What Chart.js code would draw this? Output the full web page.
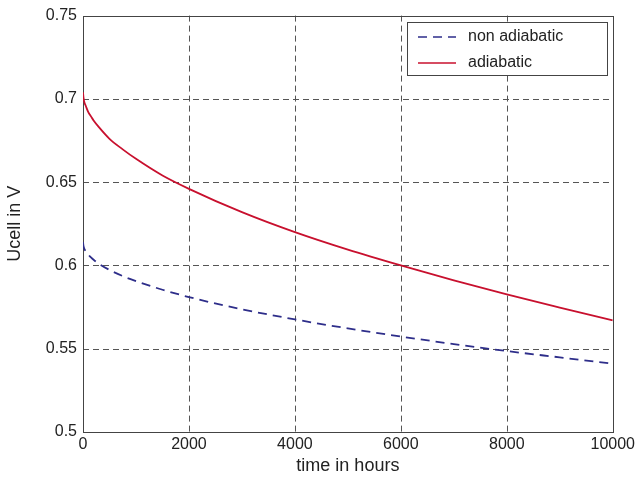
<!DOCTYPE html>
<html lang="en">
<head>
  <meta charset="UTF-8">
  <title>Ucell over time</title>
  <script src="https://cdn.jsdelivr.net/npm/chart.js"></script>
  <style>
    html, body { margin: 0; padding: 0; background: #fff; }
    #wrap { width: 638px; height: 481px; }
  </style>
</head>
<body>
  <div id="wrap"><canvas id="grafico"></canvas></div>

  <script>
    // values
    const horas = [0, 10, 25, 50, 100, 150, 200, 300, 500, 750, 1000, 1500, 2000, 3000, 4000, 5000, 6000, 7000, 8000, 9000, 10000];
    const adiabatico = [0.704, 0.7006, 0.698, 0.696, 0.692, 0.6895, 0.687, 0.683, 0.676, 0.6697, 0.664, 0.654, 0.646, 0.632, 0.620, 0.6095, 0.600, 0.591, 0.5826, 0.5747, 0.567];
    const naoAdiabatico = [0.614, 0.6115, 0.610, 0.6087, 0.6065, 0.6048, 0.6034, 0.601, 0.5973, 0.5936, 0.5906, 0.5854, 0.581, 0.5737, 0.5676, 0.5622, 0.5573, 0.5528, 0.5486, 0.5448, 0.541];
    const ticksX = [0, 2000, 4000, 6000, 8000, 10000];
    const ticksY = [0.5, 0.55, 0.6, 0.65, 0.7, 0.75];

    const fonte = '"Liberation Sans", Arial, sans-serif';

    // legenda desenhada dentro da area do grafico, com caixa
    const legendaBox = {
      id: 'legendaBox',
      afterDraw(chart) {
        const ctx = chart.ctx;
        const a = chart.chartArea;
        const x0 = Math.round(a.right) - 206, y0 = Math.round(a.top) + 6, w = 200, h = 53;
        ctx.save();
        ctx.fillStyle = '#fff';
        ctx.fillRect(x0, y0, w, h);
        ctx.strokeStyle = '#444';
        ctx.lineWidth = 1;
        ctx.strokeRect(x0 + 0.5, y0 + 0.5, w, h);
        ctx.font = '16px ' + fonte;
        ctx.textBaseline = 'middle';
        chart.data.datasets.forEach((ds, i) => {
          const y = y0 + 15 + i * 26;
          ctx.beginPath();
          ctx.strokeStyle = ds.borderColor;
          ctx.lineWidth = 1.5;
          ctx.setLineDash(ds.borderDash || []);
          ctx.moveTo(x0 + 11, y);
          ctx.lineTo(x0 + 49, y);
          ctx.stroke();
          ctx.setLineDash([]);
          ctx.fillStyle = '#222';
          ctx.fillText(ds.label, x0 + 61, y);
        });
        ctx.restore();
      }
    };

    // grade tracejada + moldura
    const gradeTracejada = {
      id: 'gradeTracejada',
      beforeDatasetsDraw(chart) {
        const ctx = chart.ctx;
        const a = chart.chartArea;
        const sx = chart.scales.x, sy = chart.scales.y;
        ctx.save();
        ctx.strokeStyle = '#555';
        ctx.lineWidth = 1;
        ctx.setLineDash([6, 4]);
        ticksX.slice(1, -1).forEach(v => {
          const x = Math.round(sx.getPixelForValue(v)) + 0.5;
          ctx.beginPath(); ctx.moveTo(x, a.top); ctx.lineTo(x, a.bottom); ctx.stroke();
        });
        ticksY.slice(1, -1).forEach(v => {
          const y = Math.round(sy.getPixelForValue(v)) + 0.5;
          ctx.beginPath(); ctx.moveTo(a.left, y); ctx.lineTo(a.right, y); ctx.stroke();
        });
        ctx.setLineDash([]);
        ctx.strokeStyle = '#444';
        ctx.strokeRect(Math.round(a.left) + 0.5, Math.round(a.top) + 0.5, Math.round(a.right - a.left), Math.round(a.bottom - a.top));
        ctx.restore();
      }
    };

    new Chart(document.getElementById('grafico').getContext('2d'), {
      type: 'line',
      data: {
        datasets: [
          {
            label: 'non adiabatic',
            data: horas.map((h, i) => ({ x: h, y: naoAdiabatico[i] })),
            borderColor: '#2e2e8a',
            borderWidth: 1.8,
            borderDash: [9, 6],
            pointRadius: 0,
            cubicInterpolationMode: 'monotone',
            fill: false
          },
          {
            label: 'adiabatic',
            data: horas.map((h, i) => ({ x: h, y: adiabatico[i] })),
            borderColor: '#c8102e',
            borderWidth: 1.8,
            pointRadius: 0,
            cubicInterpolationMode: 'monotone',
            fill: false
          }
        ]
      },
      options: {
        responsive: true,
        maintainAspectRatio: false,
        animation: false,
        layout: { padding: { top: 13, right: 22, left: 0, bottom: 0 } },
        plugins: {
          legend: { display: false },
          tooltip: { enabled: false }
        },
        scales: {
          x: {
            type: 'linear',
            min: 0,
            max: 10000,
            grid: { display: false, drawTicks: false },
            border: { display: false },
            afterBuildTicks: s => { s.ticks = ticksX.map(v => ({ value: v })); },
            ticks: { color: '#222', font: { family: fonte, size: 16 }, padding: 3, maxRotation: 0, autoSkip: false, callback: v => String(v) },
            title: { display: true, text: 'time in hours', color: '#222', font: { family: fonte, size: 18 }, padding: { top: 2 } },
            afterFit: s => { s.height = 49; }
          },
          y: {
            min: 0.5,
            max: 0.75,
            grid: { display: false, drawTicks: false },
            border: { display: false },
            afterBuildTicks: s => { s.ticks = ticksY.map(v => ({ value: v })); },
            ticks: { color: '#222', font: { family: fonte, size: 16 }, padding: 6, autoSkip: false, callback: v => String(v) },
            title: { display: true, text: 'Ucell in V', color: '#222', font: { family: fonte, size: 18 }, padding: { bottom: 4 } },
            afterFit: s => { s.width = 83; }
          }
        }
      },
      plugins: [gradeTracejada, legendaBox]
    });
  </script>
</body>
</html>
